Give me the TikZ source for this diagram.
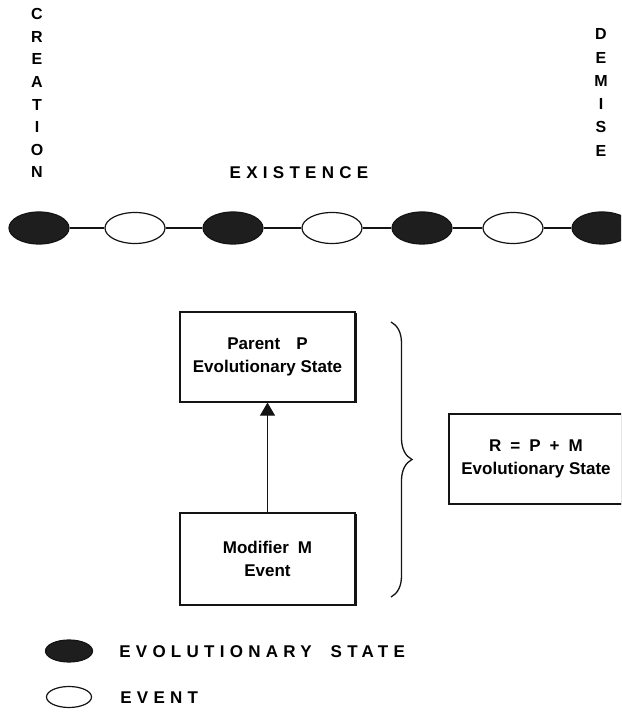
\documentclass[tikz,border=0pt]{standalone}
\usepackage{fontspec}
\setmainfont{Liberation Sans}
\usetikzlibrary{shapes.geometric,arrows.meta,positioning,decorations.pathreplacing,shadows}
\definecolor{statefill}{RGB}{30,30,30}
\definecolor{inkline}{RGB}{20,20,20}

\begin{document}
\begin{tikzpicture}[
    x=1pt, y=1pt,
    stateell/.style={ellipse, draw=inkline, fill=statefill, line width=1.2pt, minimum width=60pt, minimum height=32pt, inner sep=0pt},
    eventell/.style={ellipse, draw=inkline, fill=white, line width=1.2pt, minimum width=60pt, minimum height=31pt, inner sep=0pt},
    link/.style={inkline, line width=2pt},
    vlabel/.style={font=\fontsize{16}{16}\selectfont\bfseries, text height=11.5pt, text depth=0pt, inner sep=0pt},
    spaced/.style={font=\fontsize{17}{17}\selectfont\bfseries\addfontfeature{LetterSpace=31}, text height=12.2pt, text depth=0pt, inner sep=0pt},
    box/.style={draw=inkline, fill=white, line width=1.2pt, align=center, font=\fontsize{17}{23}\selectfont\bfseries,
                drop shadow={shadow xshift=1.5pt, shadow yshift=-1.5pt, fill=inkline, opacity=1}},
    arr/.style={-{Triangle[length=13pt, width=15pt]}, inkline, line width=0.8pt}
]
\useasboundingbox (0,0) rectangle (621,714);
\clip (0,0) rectangle (621,714);

% Vertical labels
\foreach \ch [count=\i from 0] in {C,R,E,A,T,I,O,N} {
  \node[vlabel] (cr\i) at (37, 700-\i*22.6) {\ch};
}
\foreach \ch [count=\i from 0] in {D,E,M,I,S,E} {
  \node[vlabel] (dm\i) at (601, 680-\i*23.3) {\ch};
}
\node[spaced] (exist) at (299, 542) {EXISTENCE};

% Life line
\foreach \x/\st/\nm in {39/stateell/s1, 135/eventell/e1, 233/stateell/s2, 332/eventell/e2,
                        422/stateell/s3, 513/eventell/e3, 602/stateell/s4} {
  \node[\st] (\nm) at (\x, 486) {};
}
\draw[link] (s1) -- (e1) -- (s2) -- (e2) -- (s3) -- (e3) -- (s4);

% Boxes
\node[box, minimum width=175pt, minimum height=90pt] (parent) at (267.5, 357) {Parent\hspace{16pt}P\\Evolutionary State};
\node[box, minimum width=175pt, minimum height=92pt] (modifier) at (267.5, 155) {Modifier\hspace{9pt}M\\Event};
\node[box, minimum width=174pt, minimum height=90pt] (result) at (536, 255) {R\hspace{9pt}=\hspace{9pt}P\hspace{9pt}+\hspace{9pt}M\\Evolutionary State};
\draw[arr] (modifier.north) -- (parent.south);

% Brace
\coordinate (btop) at (391, 392);
\coordinate (bbot) at (391, 117);
\draw[inkline, line width=1.3pt, decorate, decoration={brace, amplitude=21pt}] (btop) -- (bbot);

% Legend
\node[stateell, minimum width=47pt, minimum height=22pt] (lstate) at (69, 63) {};
\node[eventell, minimum width=45pt, minimum height=21pt] (levent) at (69, 17) {};
\node[spaced, anchor=west, right=26pt of lstate] (tstate) {EVOLUTIONARY\hspace{9pt} STATE};
\node[spaced, anchor=west, right=28pt of levent] (tevent) {EVENT};

\end{tikzpicture}
\end{document}
